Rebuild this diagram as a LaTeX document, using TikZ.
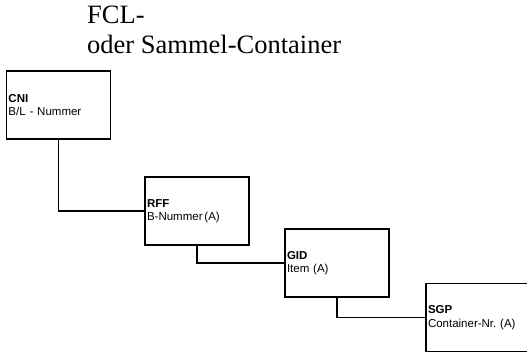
\documentclass[tikz,border=0pt]{standalone}
\usepackage{fontspec}
\setmainfont{Liberation Serif}
\newfontfamily\boxfont{Liberation Sans}
\begin{document}
\begin{tikzpicture}[x=1pt,y=1pt,
  titletext/.style={anchor=base west, inner sep=0pt, font=\fontsize{26.5}{30}\selectfont},
  segbox/.style={draw, line width=1.6pt, minimum height=68pt, text width=100pt,
    inner xsep=2pt, inner ysep=0pt, align=left,
    font=\boxfont\fontsize{11.5}{13.5}\selectfont},
  link/.style={line width=1.5pt}]
\useasboundingbox (0,0) rectangle (527,-354);
\node[titletext] (t1) at (87,-23) {FCL-};
\node[titletext] (t2) at (87,-53) {oder Sammel-Container};
\node[segbox] (cni) at (58.5,-105) {\textbf{CNI}\\B/L - Nummer};
\node[segbox] (rff) at (197,-211) {\textbf{RFF}\\B-Nummer\,(A)};
\node[segbox] (gid) at (337,-263) {\textbf{GID}\\Item (A)};
\node[segbox] (sgp) at (478,-317.5) {\textbf{SGP}\\Container-Nr.\ (A)};
\draw[link] (cni.south) |- (rff.west);
\draw[link] (rff.south) |- (gid.west);
\draw[link] (gid.south) |- (sgp.west);
\end{tikzpicture}
\end{document}
